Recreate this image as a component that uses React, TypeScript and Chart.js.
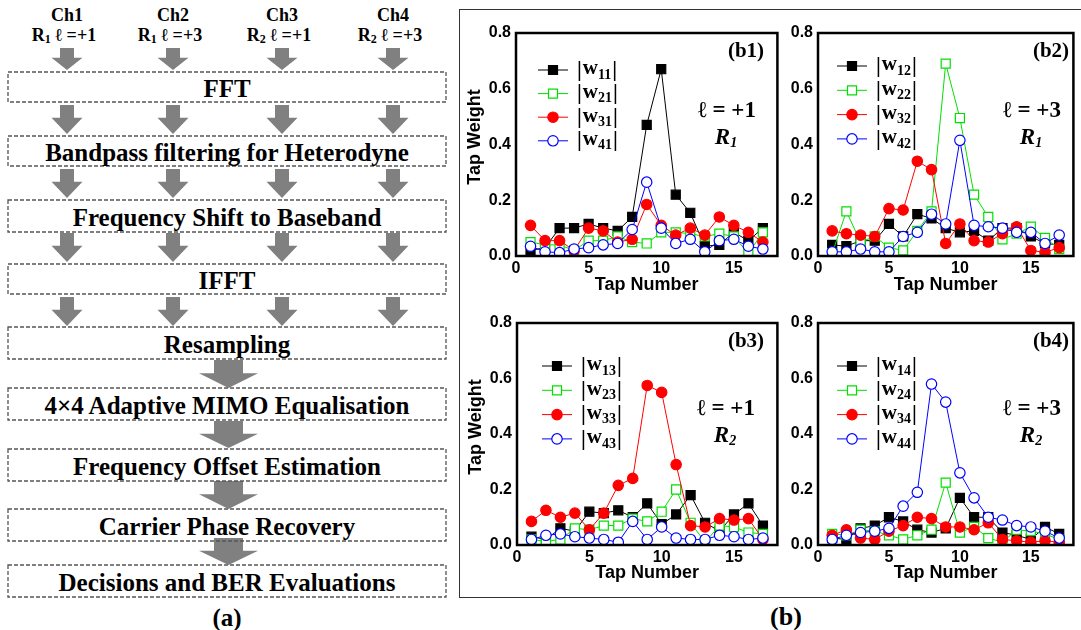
import React, { useEffect, useRef } from "react";
import { Chart, registerables } from "chart.js";

Chart.register(...registerables);

// ---------- data ----------
const taps = [1, 2, 3, 4, 5, 6, 7, 8, 9, 10, 11, 12, 13, 14, 15, 16, 17];
const xTickStep = 5;
const yTickStep = 0.2;

// panel (b1): l = +1, R1
const w11 = [0.02, 0.03, 0.10, 0.10, 0.115, 0.10, 0.09, 0.14, 0.47, 0.67, 0.22, 0.155, 0.035, 0.04, 0.085, 0.055, 0.10];
const w21 = [0.05, 0.04, 0.04, 0.02, 0.055, 0.055, 0.07, 0.05, 0.045, 0.085, 0.085, 0.08, 0.07, 0.08, 0.07, 0.01, 0.085];
const w31 = [0.11, 0.055, 0.055, 0.02, 0.10, 0.09, 0.05, 0.06, 0.185, 0.11, 0.075, 0.10, 0.075, 0.14, 0.11, 0.085, 0.05];
const w41 = [0.035, 0.015, 0.012, 0.025, 0.03, 0.04, 0.045, 0.095, 0.265, 0.10, 0.045, 0.06, 0.015, 0.055, 0.06, 0.035, 0.025];

// panel (b2): l = +3, R1
const w12 = [0.04, 0.035, 0.055, 0.055, 0.115, 0.07, 0.15, 0.135, 0.10, 0.085, 0.09, 0.055, 0.10, 0.10, 0.07, 0.045, 0.04];
const w22 = [0.01, 0.16, 0.05, 0.07, 0.03, 0.02, 0.09, 0.16, 0.69, 0.495, 0.22, 0.14, 0.06, 0.08, 0.105, 0.065, 0.025];
const w32 = [0.09, 0.08, 0.075, 0.07, 0.17, 0.165, 0.34, 0.31, 0.045, 0.115, 0.055, 0.05, 0.08, 0.105, 0.02, 0.013, 0.03];
const w42 = [0.015, 0.015, 0.025, 0.015, 0.015, 0.07, 0.085, 0.15, 0.115, 0.415, 0.11, 0.105, 0.10, 0.085, 0.085, 0.045, 0.075];

// panel (b3): l = +1, R2
const w13 = [0.03, 0.02, 0.06, 0.05, 0.12, 0.115, 0.125, 0.10, 0.15, 0.075, 0.11, 0.18, 0.08, 0.05, 0.11, 0.15, 0.07];
const w23 = [0.02, 0.013, 0.02, 0.06, 0.055, 0.07, 0.07, 0.095, 0.085, 0.12, 0.20, 0.08, 0.01, 0.07, 0.065, 0.045, 0.04];
const w33 = [0.085, 0.125, 0.10, 0.115, 0.055, 0.115, 0.215, 0.24, 0.575, 0.55, 0.29, 0.07, 0.065, 0.095, 0.09, 0.095, 0.02];
const w43 = [0.02, 0.035, 0.04, 0.03, 0.025, 0.02, 0.01, 0.085, 0.02, 0.065, 0.025, 0.02, 0.02, 0.035, 0.03, 0.02, 0.025];

// panel (b4): l = +3, R2
const w14 = [0.025, 0.02, 0.06, 0.07, 0.10, 0.085, 0.055, 0.045, 0.06, 0.17, 0.10, 0.10, 0.045, 0.035, 0.02, 0.065, 0.04];
const w24 = [0.04, 0.035, 0.055, 0.05, 0.035, 0.02, 0.035, 0.055, 0.225, 0.045, 0.065, 0.025, 0.01, 0.055, 0.05, 0.04, 0.02];
const w34 = [0.035, 0.055, 0.025, 0.02, 0.05, 0.07, 0.10, 0.095, 0.065, 0.065, 0.055, 0.08, 0.02, 0.015, 0.01, 0.015, 0.01];
const w44 = [0.02, 0.035, 0.045, 0.05, 0.06, 0.14, 0.19, 0.58, 0.515, 0.26, 0.17, 0.10, 0.09, 0.07, 0.065, 0.05, 0.025];

const headerChannels = ["Ch1", "Ch2", "Ch3", "Ch4"];
const headerRx = ["1", "1", "2", "2"];
const headerOam = ["+1", "+3", "+1", "+3"];

const stepLabels = [
  "FFT",
  "Bandpass filtering for Heterodyne",
  "Frequency Shift to Baseband",
  "IFFT",
  "Resampling",
  "4\u00d74 Adaptive MIMO Equalisation",
  "Frequency Offset Estimation",
  "Carrier Phase Recovery",
  "Decisions and BER Evaluations",
];

// ---------- styles ----------
const SERIF = '"Liberation Serif", "Times New Roman", serif';
const SANS = '"Liberation Sans", Arial, sans-serif';
const seriesColors = ["#000000", "#00e000", "#ff0000", "#0000ff"];
const seriesFilled = [true, false, true, false];
const seriesShape = ["rect", "rect", "circle", "circle"];

type Panel = {
  tag: string;
  oam: string;
  rx: string;
  series: number[][];
  subs: string[];
  left: number; top: number; width: number; height: number;
  yWidth: number; xHeight: number; padTop: number; padRight: number;
  yTitle: boolean; yTitleX: number; yTitleY: number;
  legX: number; legY: number; legDy: number;
  tagX: number; tagY: number;
  ellX: number; ellY: number; rX: number; rY: number;
};

const panels: Panel[] = [
  {
    tag: "(b1)", oam: "+1", rx: "1", series: [w11, w21, w31, w41], subs: ["11", "21", "31", "41"],
    left: 465, top: 13, width: 320, height: 283, yWidth: 51, xHeight: 40, padTop: 20, padRight: 6,
    yTitle: true, yTitleX: 475, yTitleY: 137,
    legX: 538, legY: 70, legDy: 23.6, tagX: 746, tagY: 52, ellX: 727, ellY: 111, rX: 726, rY: 138,
  },
  {
    tag: "(b2)", oam: "+3", rx: "1", series: [w12, w22, w32, w42], subs: ["12", "22", "32", "42"],
    left: 785, top: 13, width: 296, height: 283, yWidth: 33, xHeight: 40, padTop: 20, padRight: 3,
    yTitle: false, yTitleX: 0, yTitleY: 0,
    legX: 837, legY: 66, legDy: 24.3, tagX: 1051, tagY: 52, ellX: 1032, ellY: 111, rX: 1031, rY: 138,
  },
  {
    tag: "(b3)", oam: "+1", rx: "2", series: [w13, w23, w33, w43], subs: ["13", "23", "33", "43"],
    left: 465, top: 303, width: 320, height: 281, yWidth: 52, xHeight: 39, padTop: 20, padRight: 6,
    yTitle: true, yTitleX: 476, yTitleY: 427,
    legX: 542, legY: 366, legDy: 24.3, tagX: 746, tagY: 342, ellX: 726, ellY: 409, rX: 725, rY: 436,
  },
  {
    tag: "(b4)", oam: "+3", rx: "2", series: [w14, w24, w34, w44], subs: ["14", "24", "34", "44"],
    left: 785, top: 303, width: 296, height: 281, yWidth: 33, xHeight: 39, padTop: 20, padRight: 3,
    yTitle: false, yTitleX: 0, yTitleY: 0,
    legX: 837, legY: 366, legDy: 24.3, tagX: 1051, tagY: 342, ellX: 1032, ellY: 409, rX: 1031, rY: 436,
  },
];

function drawMarker(ctx: CanvasRenderingContext2D, i: number, x: number, y: number) {
  ctx.save();
  ctx.lineWidth = 1.2;
  ctx.strokeStyle = seriesColors[i];
  ctx.fillStyle = seriesFilled[i] ? seriesColors[i] : "#ffffff";
  ctx.beginPath();
  if (seriesShape[i] === "rect") {
    ctx.rect(x - 4.5, y - 4.5, 9, 9);
  } else {
    ctx.arc(x, y, 5.2, 0, Math.PI * 2);
  }
  ctx.fill();
  ctx.stroke();
  ctx.restore();
}

function ChartPanel({ panel }: { panel: Panel }) {
  const ref = useRef<HTMLCanvasElement>(null);
  useEffect(() => {
    const canvas = ref.current;
    if (!canvas) return;
    const p = panel;
    const decor = {
      id: "decor" + p.tag,
      afterDatasetsDraw(chart: any) {
        const ctx: CanvasRenderingContext2D = chart.ctx;
        const a = chart.chartArea;
        ctx.save();
        // frame
        ctx.strokeStyle = "#000";
        ctx.lineWidth = 2.5;
        ctx.strokeRect(a.left, a.top, a.right - a.left, a.bottom - a.top);
        // y title
        if (p.yTitle) {
          ctx.save();
          ctx.translate(p.yTitleX - p.left, p.yTitleY - p.top);
          ctx.rotate(-Math.PI / 2);
          ctx.fillStyle = "#000";
          ctx.font = `bold 18px ${SANS}`;
          ctx.textAlign = "center";
          ctx.textBaseline = "middle";
          ctx.fillText("Tap Weight", 0, 0);
          ctx.restore();
        }
        // legend
        for (let i = 0; i < 4; i++) {
          const y = p.legY - p.top + i * p.legDy;
          const x0 = p.legX - p.left;
          ctx.strokeStyle = seriesColors[i];
          ctx.lineWidth = 1;
          ctx.beginPath();
          ctx.moveTo(x0, y);
          ctx.lineTo(x0 + 30, y);
          ctx.stroke();
          drawMarker(ctx, i, x0 + 15, y);
          ctx.fillStyle = "#000";
          ctx.textBaseline = "middle";
          ctx.textAlign = "left";
          let tx = x0 + 39;
          ctx.font = `bold 22px ${SERIF}`;
          ctx.fillText("|", tx, y);
          tx += ctx.measureText("|").width + 1;
          ctx.font = `bold 21px ${SERIF}`;
          ctx.fillText("w", tx, y - 1);
          tx += ctx.measureText("w").width;
          ctx.font = `bold 14px ${SERIF}`;
          ctx.fillText(p.subs[i], tx, y + 5);
          tx += ctx.measureText(p.subs[i]).width + 1;
          ctx.font = `bold 22px ${SERIF}`;
          ctx.fillText("|", tx, y);
        }
        // tag
        ctx.textAlign = "center";
        ctx.textBaseline = "middle";
        ctx.font = `bold 21px ${SERIF}`;
        ctx.fillText(p.tag, p.tagX - p.left, p.tagY - p.top);
        ctx.font = `bold 23px ${SERIF}`;
        ctx.fillText("\u2113 = " + p.oam, p.ellX - p.left, p.ellY - p.top);
        // R with subscript
        ctx.font = `italic bold 23px ${SERIF}`;
        const rw = ctx.measureText("R").width;
        ctx.font = `italic bold 14px ${SERIF}`;
        const sw = ctx.measureText(p.rx).width;
        const rx0 = p.rX - p.left - (rw + sw) / 2;
        ctx.textAlign = "left";
        ctx.font = `italic bold 23px ${SERIF}`;
        ctx.fillText("R", rx0, p.rY - p.top);
        ctx.font = `italic bold 14px ${SERIF}`;
        ctx.fillText(p.rx, rx0 + rw, p.rY - p.top + 5);
        ctx.restore();
      },
    };

    const chart = new Chart(canvas, {
      type: "line",
      data: {
        datasets: p.series.map((vals, i) => ({
          label: `|w${p.subs[i]}|`,
          data: taps.map((t, k) => ({ x: t, y: vals[k] })),
          borderColor: seriesColors[i],
          borderWidth: 1,
          pointStyle: seriesShape[i] as any,
          pointRadius: seriesShape[i] === "rect" ? 6.4 : 5.2,
          pointHoverRadius: seriesShape[i] === "rect" ? 6.4 : 5.2,
          pointBackgroundColor: seriesFilled[i] ? seriesColors[i] : "#ffffff",
          pointBorderColor: seriesColors[i],
          pointBorderWidth: 1.2,
          fill: false,
          tension: 0,
          order: 3 - i,
        })),
      },
      options: {
        animation: false,
        responsive: false,
        devicePixelRatio: 1,
        layout: { padding: { top: p.padTop, right: p.padRight, left: 0, bottom: 0 } },
        plugins: { legend: { display: false }, tooltip: { enabled: false } },
        events: [],
        scales: {
          x: {
            type: "linear",
            min: 0,
            max: 18,
            grid: { display: false, drawTicks: false },
            border: { display: false },
            ticks: {
              stepSize: xTickStep,
              includeBounds: false,
              padding: 3,
              color: "#000",
              font: { family: SANS, size: 16, weight: "bold" },
            },
            title: {
              display: true,
              text: "Tap Number",
              color: "#000",
              padding: 0,
              font: { family: SANS, size: 18, weight: "bold" },
            },
            afterFit: (s: any) => { s.height = p.xHeight; },
          },
          y: {
            type: "linear",
            min: 0,
            max: 0.8,
            grid: { display: false, drawTicks: false },
            border: { display: false },
            ticks: {
              stepSize: yTickStep,
              padding: 5,
              color: "#000",
              font: { family: SANS, size: 16, weight: "bold" },
              callback: (v: any) => Number(v).toFixed(1),
            },
            title: { display: false },
            afterFit: (s: any) => { s.width = p.yWidth; },
          },
        },
      } as any,
      plugins: [decor],
    });
    return () => chart.destroy();
  }, [panel]);
  return (
    <canvas
      ref={ref}
      width={panel.width}
      height={panel.height}
      style={{ position: "absolute", left: panel.left, top: panel.top, width: panel.width, height: panel.height }}
    />
  );
}

// ---------- flowchart ----------
const boxRows = [
  [72, 102], [136, 166], [200, 232], [264, 294], [327, 359], [388, 420], [449, 481], [509, 541], [565, 597],
];
const smallArrowCols = [67, 173, 282, 393];
const smallArrowRows = [[48, 70], [105, 134], [169, 198], [233, 262], [297, 326]];
const bigArrowRows = [[360, 388], [421, 448], [481, 509], [538, 565]];

function arrowPath(cx: number, y0: number, y1: number, shaftW: number, headW: number, ratio: number) {
  const ym = y0 + (y1 - y0) * ratio;
  return `M${cx - shaftW / 2},${y0} L${cx + shaftW / 2},${y0} L${cx + shaftW / 2},${ym} L${cx + headW / 2},${ym} L${cx},${y1} L${cx - headW / 2},${ym} L${cx - shaftW / 2},${ym} Z`;
}

function Flowchart() {
  return (
    <svg width={455} height={630} style={{ position: "absolute", left: 0, top: 0 }}>
      {headerChannels.map((c, i) => (
        <g key={c}>
          <text x={smallArrowCols[i]} y={15} textAnchor="middle" dominantBaseline="central"
            fontFamily={SERIF} fontWeight="bold" fontSize={18}>{c}</text>
          <text x={smallArrowCols[i] - 3} y={35} textAnchor="middle" dominantBaseline="central"
            fontFamily={SERIF} fontWeight="bold" fontSize={18}>
            R<tspan fontSize={12} dy={4}>{headerRx[i]}</tspan><tspan dy={-4}> {"\u2113"} ={headerOam[i]}</tspan>
          </text>
        </g>
      ))}
      {smallArrowRows.map(([y0, y1], r) =>
        smallArrowCols.map((cx) => (
          <path key={`s${r}-${cx}`} d={arrowPath(cx, y0, y1, 14, 31, 0.44)} fill="#808080" />
        ))
      )}
      {bigArrowRows.map(([y0, y1], r) => (
        <path key={`b${r}`} d={arrowPath(228.5, y0, y1, 29, 59, 0.47)} fill="#808080" />
      ))}
      {boxRows.map(([y0, y1], i) => (
        <g key={`box${i}`}>
          <rect x={8} y={y0} width={438} height={y1 - y0} fill="none" stroke="#555" strokeWidth={1.3} strokeDasharray="4 2" />
          <text x={227} y={(y0 + y1) / 2 + 1} textAnchor="middle" dominantBaseline="central"
            fontFamily={SERIF} fontWeight="bold" fontSize={25}>{stepLabels[i]}</text>
        </g>
      ))}
      <text x={227} y={617} textAnchor="middle" dominantBaseline="central" fontFamily={SERIF} fontWeight="bold" fontSize={25}>(a)</text>
    </svg>
  );
}

export default function App() {
  return (
    <div style={{ position: "absolute", left: 0, top: 0, width: 1081, height: 630, background: "#fff", overflow: "hidden" }}>
      <Flowchart />
      <div style={{
        position: "absolute", left: 459, top: 9, width: 622, height: 587,
        borderTop: "1.5px solid #333", borderLeft: "1.5px solid #333", borderBottom: "1.5px solid #333",
      }} />
      {panels.map((p) => <ChartPanel key={p.tag} panel={p} />)}
      <div style={{
        position: "absolute", left: 736, top: 602, width: 100, textAlign: "center",
        fontFamily: SERIF, fontWeight: "bold", fontSize: 26, lineHeight: "30px",
      }}>(b)</div>
    </div>
  );
}
